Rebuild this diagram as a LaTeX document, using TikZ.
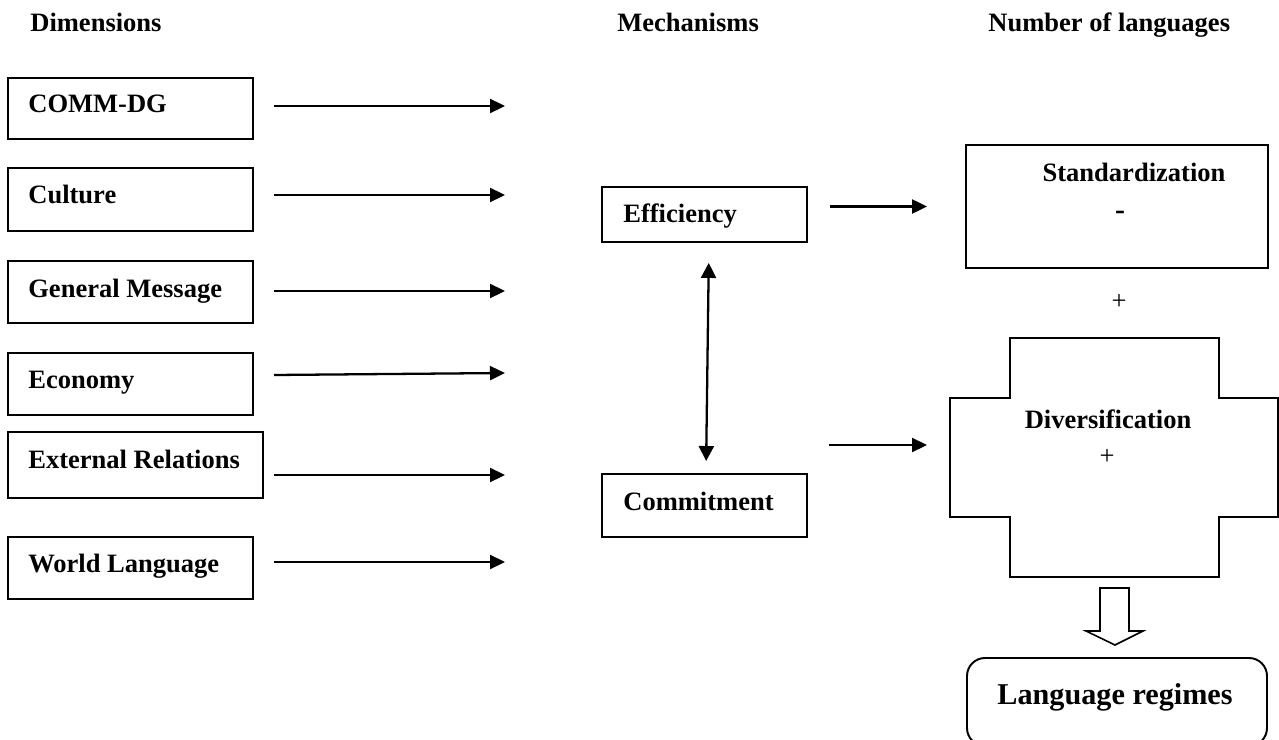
\documentclass[tikz,border=0pt]{standalone}
\usepackage{fontspec}
\setmainfont{Liberation Serif}
\usetikzlibrary{arrows.meta, positioning, calc, fit}
\tikzset{
  dimbox/.style={draw, line width=1.1pt, inner sep=0pt},
  roundbox/.style={draw, line width=1.1pt, inner sep=0pt, rounded corners=0.36cm},
  hd/.style={font=\fontsize{15.1}{18}\selectfont\bfseries, inner sep=0pt, anchor=base west},
  lbl/.style={font=\fontsize{15.1}{18}\selectfont\bfseries, inner sep=0pt, anchor=base west},
  clbl/.style={font=\fontsize{15.1}{18}\selectfont\bfseries, inner sep=0pt, anchor=base},
  sym/.style={font=\fontsize{15.1}{18}\selectfont, inner sep=0pt},
  arrow/.style={-{Triangle[length=0.3cm, width=0.28cm]}, line width=1.3pt},
  dblarrow/.style={{Triangle[length=0.3cm, width=0.3cm]}-{Triangle[length=0.3cm, width=0.3cm]}, line width=1.3pt},
  hollow/.style={draw, line width=0.9pt, fill=white}
}
\begin{document}
\begin{tikzpicture}[x=0.02cm, y=-0.02cm]
  \useasboundingbox (0,0) rectangle (1279,740);
  \clip (0,0) rectangle (1279,740);
  % column headings
  \node[hd] (hdim) at (30,32) {Dimensions};
  \node[hd] (hmech) at (617,32) {Mechanisms};
  \node[hd] (hnum) at (988,32) {Number of languages};
  % dimensions
  \node[dimbox, fit={(8,78) (253,139)}] (d1) {};
  \node[dimbox, fit={(8,168) (253,231)}] (d2) {};
  \node[dimbox, fit={(8,261) (253,323)}] (d3) {};
  \node[dimbox, fit={(8,353) (253,415)}] (d4) {};
  \node[dimbox, fit={(8,432) (263,498)}] (d5) {};
  \node[dimbox, fit={(8,537) (253,599)}] (d6) {};
  \node[lbl] (t1) at (28,113) {COMM-DG};
  \node[lbl] (t2) at (28,204) {Culture};
  \node[lbl] (t3) at (28,297) {General Message};
  \node[lbl] (t4) at (28,388) {Economy};
  \node[lbl] (t5) at (28,468) {External Relations};
  \node[lbl] (t6) at (28,572) {World Language};
  \draw[arrow] (274,106) coordinate (s1) -- (505,106) coordinate (e1);
  \draw[arrow] (274,195) coordinate (s2) -- (505,195) coordinate (e2);
  \draw[arrow] (274,291) coordinate (s3) -- (505,291) coordinate (e3);
  \draw[arrow] (274,375) coordinate (s4) -- (505,373) coordinate (e4);
  \draw[arrow] (274,475) coordinate (s5) -- (505,475) coordinate (e5);
  \draw[arrow] (274,562) coordinate (s6) -- (505,562) coordinate (e6);
  % mechanisms
  \node[dimbox, fit={(602,187) (807,242)}] (eff) {};
  \node[dimbox, fit={(602,474) (807,537)}] (com) {};
  \node[lbl] (teff) at (623,222) {Efficiency};
  \node[lbl] (tcom) at (623,510) {Commitment};
  \draw[dblarrow, shorten <=0.4cm, shorten >=0.24cm] ([xshift=0.09cm]eff.south) -- ([xshift=0.03cm]com.north);
  % number of languages
  \node[dimbox, fit={(966,145) (1268,268)}] (std) {};
  \node[clbl] (tstd) at (1134,182) {Standardization};
  \node[clbl, font=\fontsize{17}{20}\selectfont\bfseries] (minus) at (1120,219) {-};
  \node[sym] (plus1) at (1119,302) {+};
  \draw[arrow, shorten <=0.44cm, shorten >=0.76cm] (eff.east |- std.west) -- (std.west);
  \draw[line width=1.1pt] (1010,338) -- (1219,338) -- (1219,398) -- (1278,398) -- (1278,517)
    -- (1219,517) -- (1219,577) -- (1010,577) -- (1010,517) -- (950,517) -- (950,398)
    -- (1010,398) -- cycle;
  \coordinate (div) at (950,445);
  \node[clbl] (tdiv) at (1108,428) {Diversification};
  \node[sym] (plus2) at (1107,457) {+};
  \draw[arrow] (829,445) coordinate (s7) -- (927,445) coordinate (e7);
  \draw[hollow] (1100,588) -- (1129,588) -- (1129,631) -- (1143,631) -- (1115,645)
    -- (1086,631) -- (1100,631) -- cycle;
  \node[roundbox, fit={(967,658) (1267,746)}] (regime) {};
  \node[clbl, font=\fontsize{17.2}{20}\selectfont\bfseries] (treg) at (1115,704) {Language regimes};
\end{tikzpicture}
\end{document}
